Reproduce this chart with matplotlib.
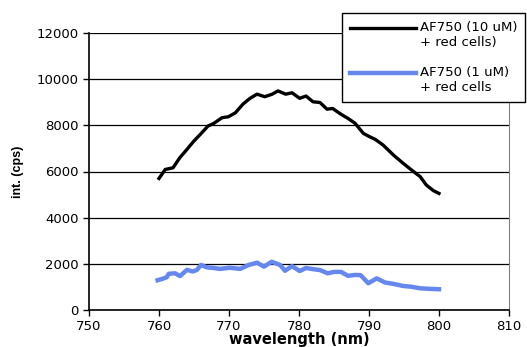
import matplotlib
matplotlib.use("Agg")
import matplotlib.pyplot as plt
from matplotlib.legend_handler import HandlerLine2D

# AF750 (10 uM) + red cells
wl_high = [760.0, 760.9, 762.0, 763.0, 764.0, 764.9, 766.0, 767.0, 767.8, 769.0,
           769.9, 770.9, 772.0, 773.0, 774.0, 775.1, 776.1, 777.0, 778.1, 779.0,
           780.1, 781.0, 782.0, 783.0, 784.0, 784.8, 786.0, 787.0, 788.0, 789.2,
           790.0, 790.9, 792.0, 793.5, 794.9, 796.1, 797.3, 798.2, 799.2, 800.0]
int_high = [5700, 6090, 6160, 6610, 6960, 7290, 7640, 7970, 8080, 8330,
            8370, 8540, 8920, 9170, 9350, 9240, 9340, 9490, 9350, 9410,
            9170, 9270, 9020, 8990, 8700, 8730, 8480, 8300, 8090, 7650,
            7520, 7390, 7150, 6710, 6350, 6060, 5780, 5410, 5170, 5050]

# AF750 (1 uM) + red cells
wl_low = [759.8, 760.5, 761.1, 761.4, 762.3, 763.0, 764.0, 764.8, 765.4, 766.0,
          766.8, 767.8, 768.7, 770.1, 771.6, 772.8, 774.0, 775.0, 776.1, 777.3,
          778.0, 779.0, 780.1, 781.0, 782.0, 783.0, 784.1, 785.0, 786.0, 787.0,
          788.0, 788.8, 789.9, 791.1, 792.3, 793.5, 794.9, 796.0, 797.3, 798.5,
          800.0]
int_low = [1290, 1350, 1420, 1570, 1590, 1470, 1740, 1670, 1730, 1950,
           1850, 1820, 1780, 1830, 1780, 1950, 2050, 1880, 2090, 1950,
           1700, 1900, 1690, 1820, 1770, 1730, 1590, 1650, 1650, 1480,
           1520, 1510, 1160, 1370, 1190, 1130, 1040, 1010, 940, 920,
           900]

x_ticks = [750, 760, 770, 780, 790, 800, 810]
y_ticks = [0, 2000, 4000, 6000, 8000, 10000, 12000]

plt.rcParams['font.family'] = ['DejaVu Sans']


class TopHandler(HandlerLine2D):
    # put the sample line on the first text row, like the original legend
    def create_artists(self, legend, orig_handle, xdescent, ydescent,
                       width, height, fontsize, trans):
        return super().create_artists(legend, orig_handle, xdescent,
                                      ydescent - 1.1 * fontsize, width, height,
                                      fontsize, trans)


fig = plt.figure(figsize=(5.27, 3.47), dpi=100)
ax = fig.add_axes([89 / 527, 1 - 310 / 347, 420 / 527, 277 / 347])

ax.plot(wl_high, int_high, color="black", lw=2.4, label="AF750 (10 uM)\n+ red cells)",
        solid_joinstyle="round")
ax.plot(wl_low, int_low, color="#6688ee", lw=3.2, label="AF750 (1 uM)\n+ red cells",
        solid_joinstyle="round")

ax.set_xlim(750, 810)
ax.set_ylim(0, 12000)
ax.set_xticks(x_ticks)
ax.set_yticks(y_ticks)
ax.tick_params(labelsize=9.5, length=4, width=1, direction="out", colors="black")
ax.yaxis.grid(True, color="black", lw=0.9)
ax.set_axisbelow(True)

ax.spines["top"].set_visible(False)
ax.spines["right"].set_color("#808080")
ax.spines["left"].set_linewidth(1.2)
ax.spines["bottom"].set_linewidth(1.2)

ax.set_xlabel("wavelength (nm)", fontsize=10.5, fontweight="bold", labelpad=-1)
ax.set_ylabel("int. (cps)", fontsize=9, fontweight="bold", labelpad=9,
              family="Liberation Sans")

leg = ax.legend(loc="upper left", bbox_to_anchor=(342 / 527, 1 - 13 / 347),
                bbox_transform=fig.transFigure, fontsize=9.5, frameon=True,
                fancybox=False, edgecolor="black", framealpha=1,
                handlelength=5.0, handletextpad=0.3, labelspacing=1.3,
                borderpad=0.6, borderaxespad=0,
                handler_map={matplotlib.lines.Line2D: TopHandler()})
leg.get_frame().set_linewidth(1.0)

fig.savefig("out.png", dpi=100)
